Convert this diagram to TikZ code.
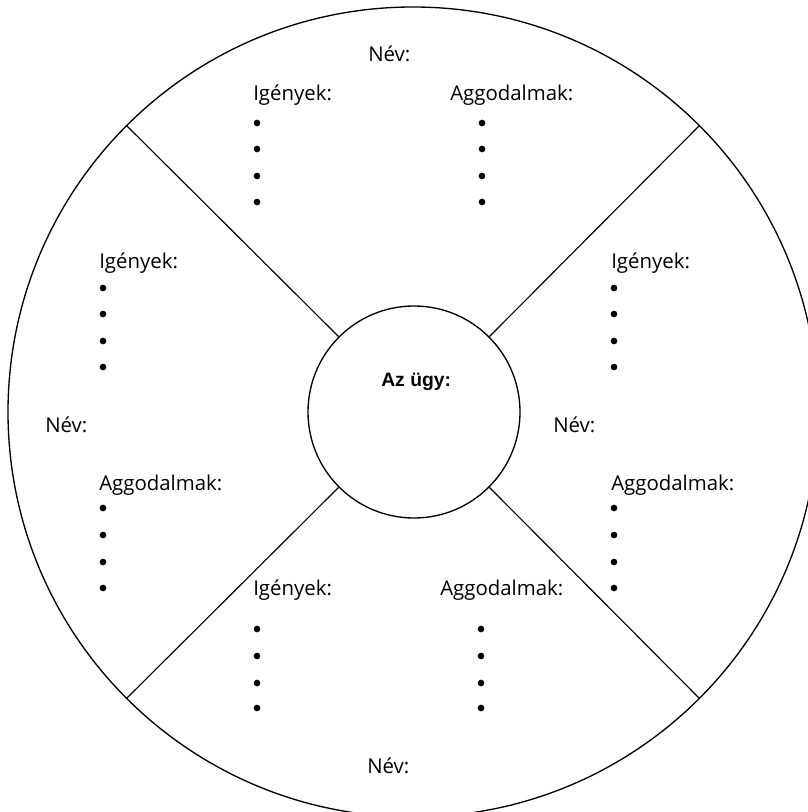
\documentclass[tikz,border=0pt]{standalone}
\usepackage{fontspec}
\setmainfont{Open Sans}
\newfontfamily\issuefont{Liberation Sans}
\begin{document}
\begin{tikzpicture}[x=0.75pt, y=-0.75pt, every node/.style={inner sep=0pt, font=\fontsize{15.3}{17}\selectfont}, dot/.style={circle, fill=black, minimum size=5pt}, title/.style={anchor=base west}]

	\useasboundingbox (0,0) rectangle (807,812);

	\node[draw, circle, line width=0.35mm, minimum size=607.5pt] (wheel) at (413,412) {};
	\node[draw, circle, line width=0.35mm, minimum size=159pt] (issue) at (414,412) {};
	\node[title, font=\issuefont\bfseries\fontsize{14.5}{16}\selectfont] (issuetext) at (381,386) {Az ügy:};

	\draw[line width=0.3mm] (issue.45) -- (wheel.45);
	\draw[line width=0.3mm] (issue.135) -- (wheel.135);
	\draw[line width=0.3mm] (issue.225) -- (wheel.225);
	\draw[line width=0.3mm] (issue.315) -- (wheel.315);

	\node[title] (nametop) at (368,62) {Név:};
	\node[title] (needstop) at (253,101) {Igények:};
	\node[title] (worriestop) at (450,101) {Aggodalmak:};
	\foreach \y [count=\i] in {123,149,176,202} {
		\node[dot] (needstop\i) at (257,\y) {};
		\node[dot] (worriestop\i) at (482,\y) {};
	}

	\node[title] (nameleft) at (45,432) {Név:};
	\node[title] (needsleft) at (99,269) {Igények:};
	\node[title] (worriesleft) at (99,490) {Aggodalmak:};
	\node[title] (nameright) at (553,432) {Név:};
	\node[title] (needsright) at (611,269) {Igények:};
	\node[title] (worriesright) at (611,490) {Aggodalmak:};
	\foreach \y [count=\i] in {288,314,341,367} {
		\node[dot] (needsleft\i) at (103,\y) {};
		\node[dot] (needsright\i) at (614,\y) {};
	}
	\foreach \y [count=\i] in {508,535,562,588} {
		\node[dot] (worriesleft\i) at (103,\y) {};
		\node[dot] (worriesright\i) at (614,\y) {};
	}

	\node[title] (needsbottom) at (253,595) {Igények:};
	\node[title] (worriesbottom) at (440,595) {Aggodalmak:};
	\node[title] (namebottom) at (367,773) {Név:};
	\foreach \y [count=\i] in {629,656,683,708} {
		\node[dot] (needsbottom\i) at (257,\y) {};
		\node[dot] (worriesbottom\i) at (481,\y) {};
	}

\end{tikzpicture}
\end{document}
